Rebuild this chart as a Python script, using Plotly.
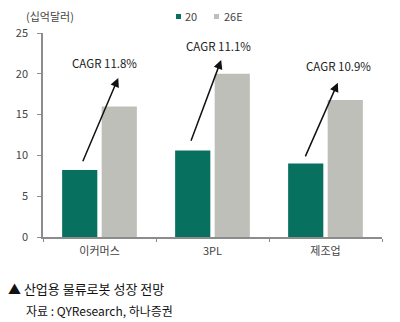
import plotly.graph_objects as go

# Industrial logistics robot market by segment (USD bn)
categories = ["이커머스", "3PL", "제조업"]
series_names = ["20", "26E"]
values_20 = [8.2, 10.6, 9.0]
values_26e = [16.0, 20.0, 16.8]
cagr_labels = ["CAGR 11.8%", "CAGR 11.1%", "CAGR 10.9%"]
y_ticks = [0, 5, 10, 15, 20, 25]

GREEN = "#07705F"
GRAY = "#BFBFBA"
AXIS = "#8C8C8C"
FONT = "Noto Sans CJK KR"

fig = go.Figure()
fig.add_trace(go.Bar(x=categories, y=values_20, name=series_names[0],
                     marker=dict(color=GREEN, line=dict(width=0)), showlegend=False))
fig.add_trace(go.Bar(x=categories, y=values_26e, name=series_names[1],
                     marker=dict(color=GRAY, line=dict(width=0)), showlegend=False))

# CAGR arrows: tail above the 2020 bar, head up toward the 2026E bar
arrow_tail_dx = [-0.153, -0.195, -0.184]
arrow_head_dx = [0.166, 0.077, 0.109]
arrow_tail_dy = [0.9, 1.0, 0.7]
arrow_head_dy = [3.5, 1.7, 2.1]
label_dx = [0.046, 0.05, 0.118]
label_dy = [5.3, 3.4, 4.1]

annotations = []
for i in range(len(categories)):
    annotations.append(dict(
        x=i + arrow_head_dx[i], y=values_26e[i] + arrow_head_dy[i],
        ax=i + arrow_tail_dx[i], ay=values_20[i] + arrow_tail_dy[i],
        xref="x", yref="y", axref="x", ayref="y",
        text="", showarrow=True, arrowhead=2, arrowsize=1.2,
        arrowwidth=1.5, arrowcolor="#111111"))
    annotations.append(dict(
        x=i + label_dx[i], y=values_26e[i] + label_dy[i],
        xref="x", yref="y", text=cagr_labels[i], showarrow=False,
        font=dict(family=FONT, size=11.5, color="#222222")))

# unit label and legend drawn as text at the top
annotations.append(dict(x=24, y=16, xref="paper", yref="paper", text="(십억달러)",
                        showarrow=False, xanchor="left", yanchor="middle"))
annotations.append(dict(x=183, y=16, text=series_names[0], showarrow=False,
                        xanchor="left", yanchor="middle"))
annotations.append(dict(x=222, y=16, text=series_names[1], showarrow=False,
                        xanchor="left", yanchor="middle"))
# footer
annotations.append(dict(x=6, y=288, text="▲ 산업용 물류로봇 성장 전망", showarrow=False,
                        xanchor="left", yanchor="middle",
                        font=dict(family=FONT, size=13, color="#111111")))
annotations.append(dict(x=24, y=310, text="자료 : QYResearch, 하나증권", showarrow=False,
                        xanchor="left", yanchor="middle",
                        font=dict(family=FONT, size=12, color="#111111")))

W, H = 400, 322
L, R, T, B = 43, 18, 33, 85
pw, ph = W - L - R, H - T - B

# convert pixel positions of the top/footer texts into paper coordinates
for a in annotations:
    if a.get("xref") == "x":
        continue
    a["xref"] = "paper"
    a["yref"] = "paper"
    a["x"] = (a["x"] - L) / pw
    a["y"] = 1 - (a["y"] - T) / ph
    a.setdefault("font", dict(family=FONT, size=11, color="#444444"))

legend_boxes = [(176, GREEN), (214, GRAY)]
shapes = []
for px, col in legend_boxes:
    shapes.append(dict(type="rect", xref="paper", yref="paper",
                       x0=(px - L) / pw, x1=(px + 5 - L) / pw,
                       y0=1 - (19 - T) / ph, y1=1 - (14 - T) / ph,
                       fillcolor=col, line=dict(width=0)))

fig.update_layout(
    width=W, height=H,
    margin=dict(l=L, r=R, t=T, b=B, pad=0),
    paper_bgcolor="white", plot_bgcolor="white",
    barmode="group", bargap=0.3, bargroupgap=0.11,
    font=dict(family=FONT, size=11, color="#444444"),
    annotations=annotations, shapes=shapes,
    showlegend=False,
)
fig.update_xaxes(type="category", showline=True, linecolor=AXIS, linewidth=1.5,
                 ticks="outside", tickson="boundaries", ticklen=3, tickcolor=AXIS,
                 ticklabelstandoff=3, showgrid=False,
                 tickfont=dict(family=FONT, size=11, color="#444444"))
fig.update_yaxes(range=[0, 25], tickvals=y_ticks, showline=True, linecolor=AXIS,
                 linewidth=1.5, ticks="outside", ticklen=4, tickcolor=AXIS,
                 ticklabelstandoff=7, showgrid=False, zeroline=False,
                 tickfont=dict(family=FONT, size=11, color="#444444"))

fig.write_html("out.html")
